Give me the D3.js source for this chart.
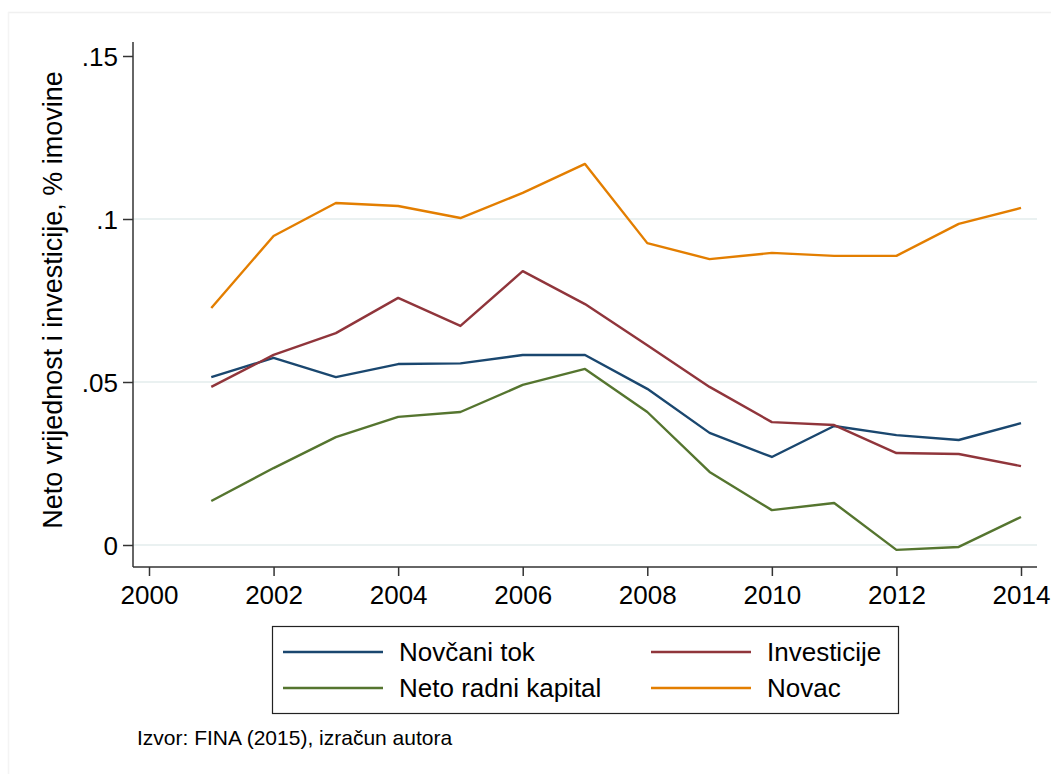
<!DOCTYPE html>
<html>
<head>
<meta charset="utf-8">
<script src="https://cdn.jsdelivr.net/npm/d3@7"></script>
<style>
  body { margin: 0; background: #fff; }
  svg { display: block; font-family: "Liberation Sans", Arial, sans-serif; }
</style>
</head>
<body>
<svg id="chart" width="1051" height="774"></svg>
<script>

// data
var years = [2001, 2002, 2003, 2004, 2005, 2006, 2007, 2008, 2009, 2010, 2011, 2012, 2013, 2014];

var novcani_tok = [0.0515, 0.0574, 0.0515, 0.0555, 0.0557, 0.0583, 0.0583, 0.0479, 0.0344, 0.0270, 0.0365, 0.0337, 0.0322, 0.0374];
var investicije = [0.0485, 0.0583, 0.0650, 0.0758, 0.0672, 0.0840, 0.0739, 0.0613, 0.0485, 0.0377, 0.0368, 0.0282, 0.0279, 0.0242];
var neto_radni_kapital = [0.0135, 0.0236, 0.0331, 0.0393, 0.0408, 0.0491, 0.0540, 0.0408, 0.0224, 0.0107, 0.0129, -0.0015, -0.0006, 0.0086];
var novac = [0.0727, 0.0948, 0.1049, 0.1040, 0.1003, 0.1080, 0.1169, 0.0926, 0.0877, 0.0896, 0.0887, 0.0887, 0.0985, 0.1034];

var series_names = ["Novčani tok", "Investicije", "Neto radni kapital", "Novac"];
var series_colors = ["#1a476f", "#90353b", "#55752f", "#e37e00"];

var x_ticks = [2000, 2002, 2004, 2006, 2008, 2010, 2012, 2014];
var y_ticks = [0, 0.05, 0.1, 0.15];
var y_tick_labels = ["0", ".05", ".1", ".15"];
var y_grid = [0, 0.05, 0.1];

var y_title = "Neto vrijednost i investicije, % imovine";
var note = "Izvor: FINA (2015), izračun autora";

var svg = d3.select("#chart");

// faint outer frame
svg.append("line").attr("x1", 8).attr("x2", 1051).attr("y1", 12.5).attr("y2", 12.5)
    .attr("stroke", "#f0f0f0").attr("stroke-width", 1.5);
svg.append("line").attr("x1", 8.5).attr("x2", 8.5).attr("y1", 12).attr("y2", 774)
    .attr("stroke", "#f4f4f4").attr("stroke-width", 1.5);

var x = d3.scaleLinear().domain([2000, 2014]).range([149, 1021]);
var y = d3.scaleLinear().domain([0, 0.15]).range([545, 56]);

var axis_left = 133, axis_bottom = 567, plot_right = 1037, plot_top = 42;

// grid
svg.append("g").selectAll("line")
    .data(y_grid)
    .enter().append("line")
    .attr("x1", axis_left).attr("x2", plot_right)
    .attr("y1", function(d) { return y(d); })
    .attr("y2", function(d) { return y(d); })
    .attr("stroke", "#e3eced")
    .attr("stroke-width", 1.5);

// axes
var y_axis = svg.append("g")
    .attr("transform", "translate(" + axis_left + ",0)")
    .call(d3.axisLeft(y).tickValues(y_ticks)
          .tickFormat(function(d, i) { return y_tick_labels[i]; })
          .tickSize(10).tickPadding(5));

var x_axis = svg.append("g")
    .attr("transform", "translate(0," + axis_bottom + ")")
    .call(d3.axisBottom(x).tickValues(x_ticks).tickFormat(d3.format("d"))
          .tickSize(9).tickPadding(8));

[y_axis, x_axis].forEach(function(a) {
    a.select(".domain").remove();
    a.selectAll(".tick line").attr("stroke", "#333").attr("stroke-width", 1.5);
    a.selectAll(".tick text").attr("fill", "#000")
        .style("font-size", "26px").style("font-family", "'Liberation Sans', Arial, sans-serif");
});
y_axis.selectAll(".tick text").attr("dy", "0.36em");
x_axis.selectAll(".tick text").attr("dy", "0.76em");

svg.append("line")
    .attr("x1", axis_left).attr("x2", axis_left)
    .attr("y1", plot_top).attr("y2", axis_bottom)
    .attr("stroke", "#333").attr("stroke-width", 1.5);
svg.append("line")
    .attr("x1", axis_left).attr("x2", plot_right)
    .attr("y1", axis_bottom).attr("y2", axis_bottom)
    .attr("stroke", "#333").attr("stroke-width", 1.5);

// y title
svg.append("text")
    .attr("transform", "translate(62,300) rotate(-90)")
    .attr("text-anchor", "middle")
    .style("font-size", "27px")
    .text(y_title);

// lines
var all_series = [novcani_tok, investicije, neto_radni_kapital, novac];

var line = d3.line()
    .x(function(d, i) { return x(years[i]); })
    .y(function(d) { return y(d); });

svg.append("g").selectAll("path")
    .data(all_series)
    .enter().append("path")
    .attr("d", line)
    .attr("fill", "none")
    .attr("stroke", function(d, i) { return series_colors[i]; })
    .attr("stroke-width", 2.4)
    .attr("stroke-linejoin", "round");

// legend
var legend = svg.append("g");
legend.append("rect")
    .attr("x", 272.5).attr("y", 626.5)
    .attr("width", 626).attr("height", 87)
    .attr("fill", "#fff").attr("stroke", "#222").attr("stroke-width", 1.2);

var leg_x = [283, 651];
var leg_y = [652, 688];

var items = legend.selectAll("g.item")
    .data(series_names)
    .enter().append("g")
    .attr("class", "item")
    .attr("transform", function(d, i) {
        return "translate(" + leg_x[i % 2] + "," + leg_y[Math.floor(i / 2)] + ")";
    });

items.append("line")
    .attr("x1", 0).attr("x2", 100)
    .attr("stroke", function(d, i) { return series_colors[i]; })
    .attr("stroke-width", 2.4);

items.append("text")
    .attr("x", 116).attr("dy", "0.36em")
    .style("font-size", "26px")
    .text(function(d) { return d; });

// note
svg.append("text")
    .attr("x", 137).attr("y", 745)
    .style("font-size", "21px")
    .text(note);

</script>
</body>
</html>
